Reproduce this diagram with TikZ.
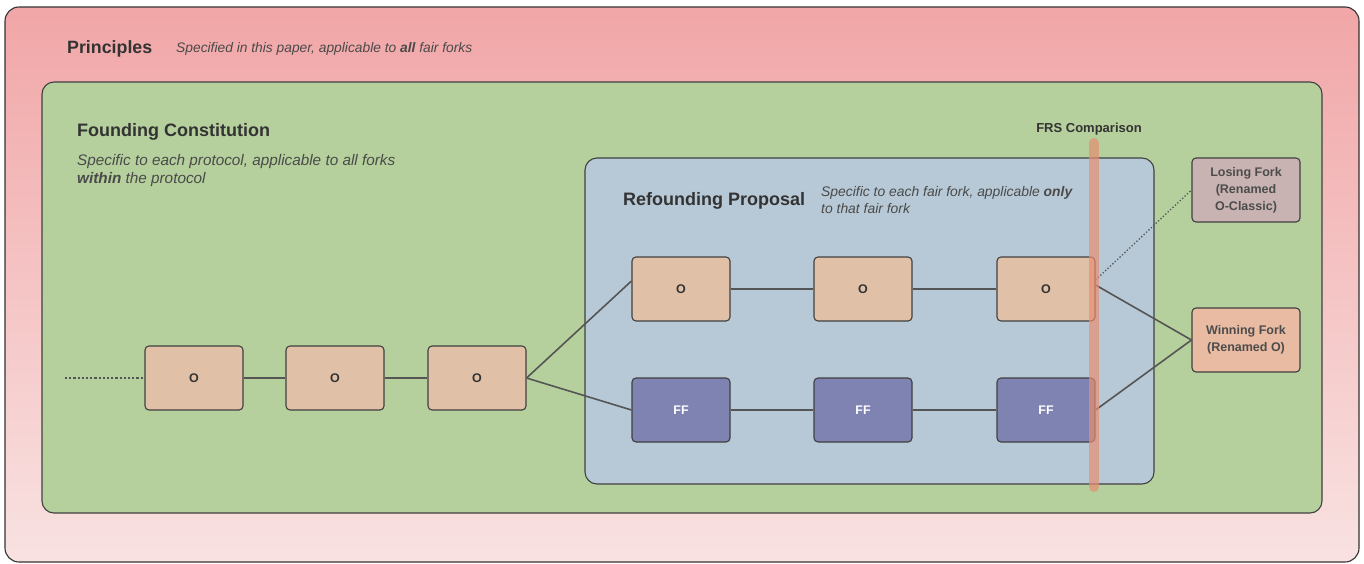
\documentclass[tikz,border=0pt]{standalone}
\usepackage{fontspec}
\setmainfont{Liberation Sans}
\definecolor{pinkT}{HTML}{F1A6A7}
\definecolor{pinkB}{HTML}{F9E2E2}
\definecolor{greenbg}{HTML}{B5D09C}
\definecolor{bluebg}{HTML}{B7C9D6}
\definecolor{onode}{HTML}{E0C1A7}
\definecolor{ffnode}{HTML}{7F83B1}
\definecolor{losenode}{HTML}{C8B3B2}
\definecolor{winnode}{HTML}{E8BBA2}
\definecolor{frs}{HTML}{E88E72}
\definecolor{txt}{HTML}{333333}
\definecolor{subtxt}{HTML}{4A4A4A}
\definecolor{edge}{HTML}{555555}
\tikzset{
  chainbox/.style={rectangle, rounded corners=4pt, minimum width=98pt, minimum height=64pt,
    draw=black!75, line width=1.1pt, font=\fontsize{12.5}{14}\selectfont\bfseries, text=txt},
  obox/.style={chainbox, fill=onode},
  ffbox/.style={chainbox, fill=ffnode, text=white},
  sidebox/.style={chainbox, minimum width=108pt, align=center, font=\fontsize{12.5}{17}\selectfont\bfseries, text=black!70},
  link/.style={draw=edge, line width=1.6pt},
  title/.style={anchor=base west, inner sep=0pt, text=txt, font=\fontsize{18}{21}\selectfont\bfseries},
  subtitle/.style={anchor=base west, inner sep=0pt, text=subtxt, font=\fontsize{15.3}{18}\selectfont\itshape},
}
\begin{document}
\begin{tikzpicture}[x=1pt,y=-1pt]
\useasboundingbox (0,0) rectangle (1364,563);
% outer principles box
\path[top color=pinkT, bottom color=pinkB, draw=black!80, line width=1.1pt, rounded corners=14pt] (5,7) rectangle (1359,562);
\node[title, font=\fontsize{17.8}{20}\selectfont\bfseries] (ptitle) at (67,53) {Principles};
\node[subtitle, font=\fontsize{13.8}{16}\selectfont\itshape] (psub) at (176,52) {Specified in this paper, applicable to \textbf{all} fair forks};
% founding constitution
\path[fill=greenbg, draw=black!75, line width=1.1pt, rounded corners=12pt] (42,82) rectangle (1322,513);
\node[title] (ftitle) at (77,136) {Founding Constitution};
\node[subtitle] (fsub1) at (77,165) {Specific to each protocol, applicable to all forks};
\node[subtitle] (fsub2) at (77,183) {\textbf{within} the protocol};
% refounding proposal
\path[fill=bluebg, draw=black!75, line width=1.1pt, rounded corners=12pt] (585,158) rectangle (1154,484);
\node[title] (rtitle) at (623,205) {Refounding Proposal};
\node[subtitle, font=\fontsize{13.9}{16}\selectfont\itshape] (rsub1) at (821,196) {Specific to each fair fork, applicable \textbf{only}};
\node[subtitle, font=\fontsize{13.9}{16}\selectfont\itshape] (rsub2) at (821,213) {to that fair fork};
% chain nodes
\node[obox] (o1) at (194,378) {O};
\node[obox] (o2) at (335,378) {O};
\node[obox] (o3) at (477,378) {O};
\node[obox] (t1) at (681,289) {O};
\node[obox] (t2) at (863,289) {O};
\node[obox] (t3) at (1046,289) {O};
\node[ffbox] (f1) at (681,410) {FF};
\node[ffbox] (f2) at (863,410) {FF};
\node[ffbox] (f3) at (1046,410) {FF};
\node[sidebox, fill=losenode] (lose) at (1246,190) {Losing Fork\\(Renamed\\O-Classic)};
\node[sidebox, fill=winnode] (win) at (1246,340) {Winning Fork\\(Renamed O)};
% connectors
\coordinate (dstart) at (65,378);
\draw[edge, line width=2.2pt, dotted] (dstart) -- (o1.west);
\draw[link] (o1) -- (o2);
\draw[link] (o2) -- (o3);
\draw[link] (o3.east) -- ([yshift=8pt]t1.west);
\draw[link] (o3.east) -- (f1.west);
\draw[link] (t1) -- (t2);
\draw[link] (t2) -- (t3);
\draw[link] (f1) -- (f2);
\draw[link] (f2) -- (f3);
\draw[link] ([yshift=4pt]t3.east) -- (win.west);
\draw[link] (f3.east) -- (win.west);
\draw[edge, line width=1.3pt, dotted] ([yshift=9pt]t3.east) -- (lose.west);
% FRS comparison
\coordinate (frsTop) at (1094,143);
\coordinate (frsBot) at (1094,487);
\draw[frs, line width=10pt, line cap=round, opacity=0.7] (frsTop) -- (frsBot);
\node[anchor=base, inner sep=0pt, text=txt, font=\fontsize{13}{15}\selectfont\bfseries] (frslabel) at (1089,132) {FRS Comparison};
\end{tikzpicture}
\end{document}
